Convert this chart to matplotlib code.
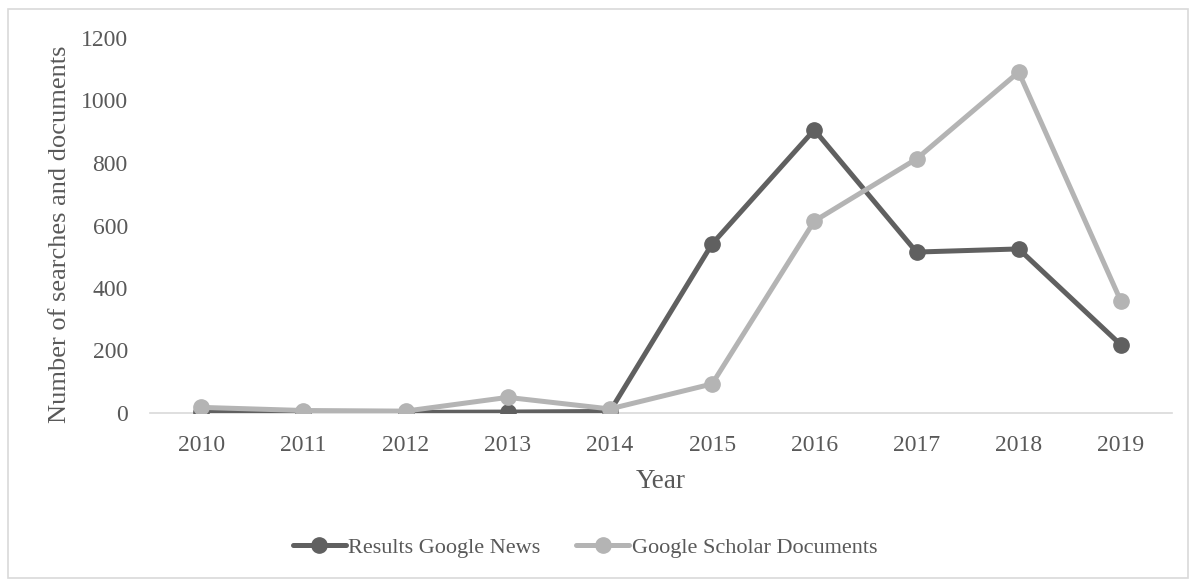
import matplotlib.pyplot as plt
from matplotlib.patches import Rectangle

# data
years = ["2010", "2011", "2012", "2013", "2014", "2015", "2016", "2017", "2018", "2019"]
news_results = [2, 3, 2, 3, 5, 541, 906, 515, 525, 218]
scholar_docs = [18, 8, 6, 50, 13, 93, 614, 813, 1091, 358]
y_ticks = [0, 200, 400, 600, 800, 1000, 1200]

dark_grey = "#606060"
light_grey = "#b4b4b4"
text_grey = "#595959"

plt.rcParams["font.family"] = ["Liberation Serif", "DejaVu Serif"]

fig = plt.figure(figsize=(11.96, 5.79), dpi=100)
ax = fig.add_axes([150 / 1196, 1 - 413 / 579, (1172 - 150) / 1196, (413 - 38) / 579])

x = list(range(len(years)))
ax.plot(x, news_results, color=dark_grey, lw=3.6, marker="o", ms=11,
        solid_capstyle="round", label="Results Google News", zorder=3)
ax.plot(x, scholar_docs, color=light_grey, lw=3.6, marker="o", ms=11,
        solid_capstyle="round", label="Google Scholar Documents", zorder=4)

ax.set_xlim(-0.5, len(years) - 0.5)
ax.set_ylim(0, 1200)
ax.set_xticks(x)
ax.set_xticklabels(years)
ax.set_yticks(y_ticks)

for side in ["top", "right", "left"]:
    ax.spines[side].set_visible(False)
ax.spines["bottom"].set_color("#d9d9d9")
ax.spines["bottom"].set_linewidth(1.2)
ax.spines["bottom"].set_zorder(1)
ax.tick_params(length=0, labelsize=17, colors=text_grey)
ax.tick_params(axis="x", pad=16)
ax.tick_params(axis="y", pad=16)

ax.set_xlabel("Year", fontsize=19.5, color=text_grey, labelpad=9)
ax.set_ylabel("Number of searches and documents", fontsize=19, color=text_grey)
ax.yaxis.set_label_coords((71 - 150) / 1022, (413 - 234) / 375)

leg = fig.legend(loc="center", bbox_to_anchor=(585 / 1196, 1 - 548 / 579), ncol=2, frameon=False,
                 fontsize=16, handlelength=2.4, handletextpad=0.1, columnspacing=1.6)
for txt in leg.get_texts():
    txt.set_color(text_grey)

# light frame around the whole chart
fig.patches.append(Rectangle((8 / 1196, 0.002), 1180 / 1196, 1 - 9 / 579 - 0.002,
                             transform=fig.transFigure, fill=False,
                             edgecolor="#d9d9d9", lw=1.2))

fig.savefig("out.png", dpi=100)
